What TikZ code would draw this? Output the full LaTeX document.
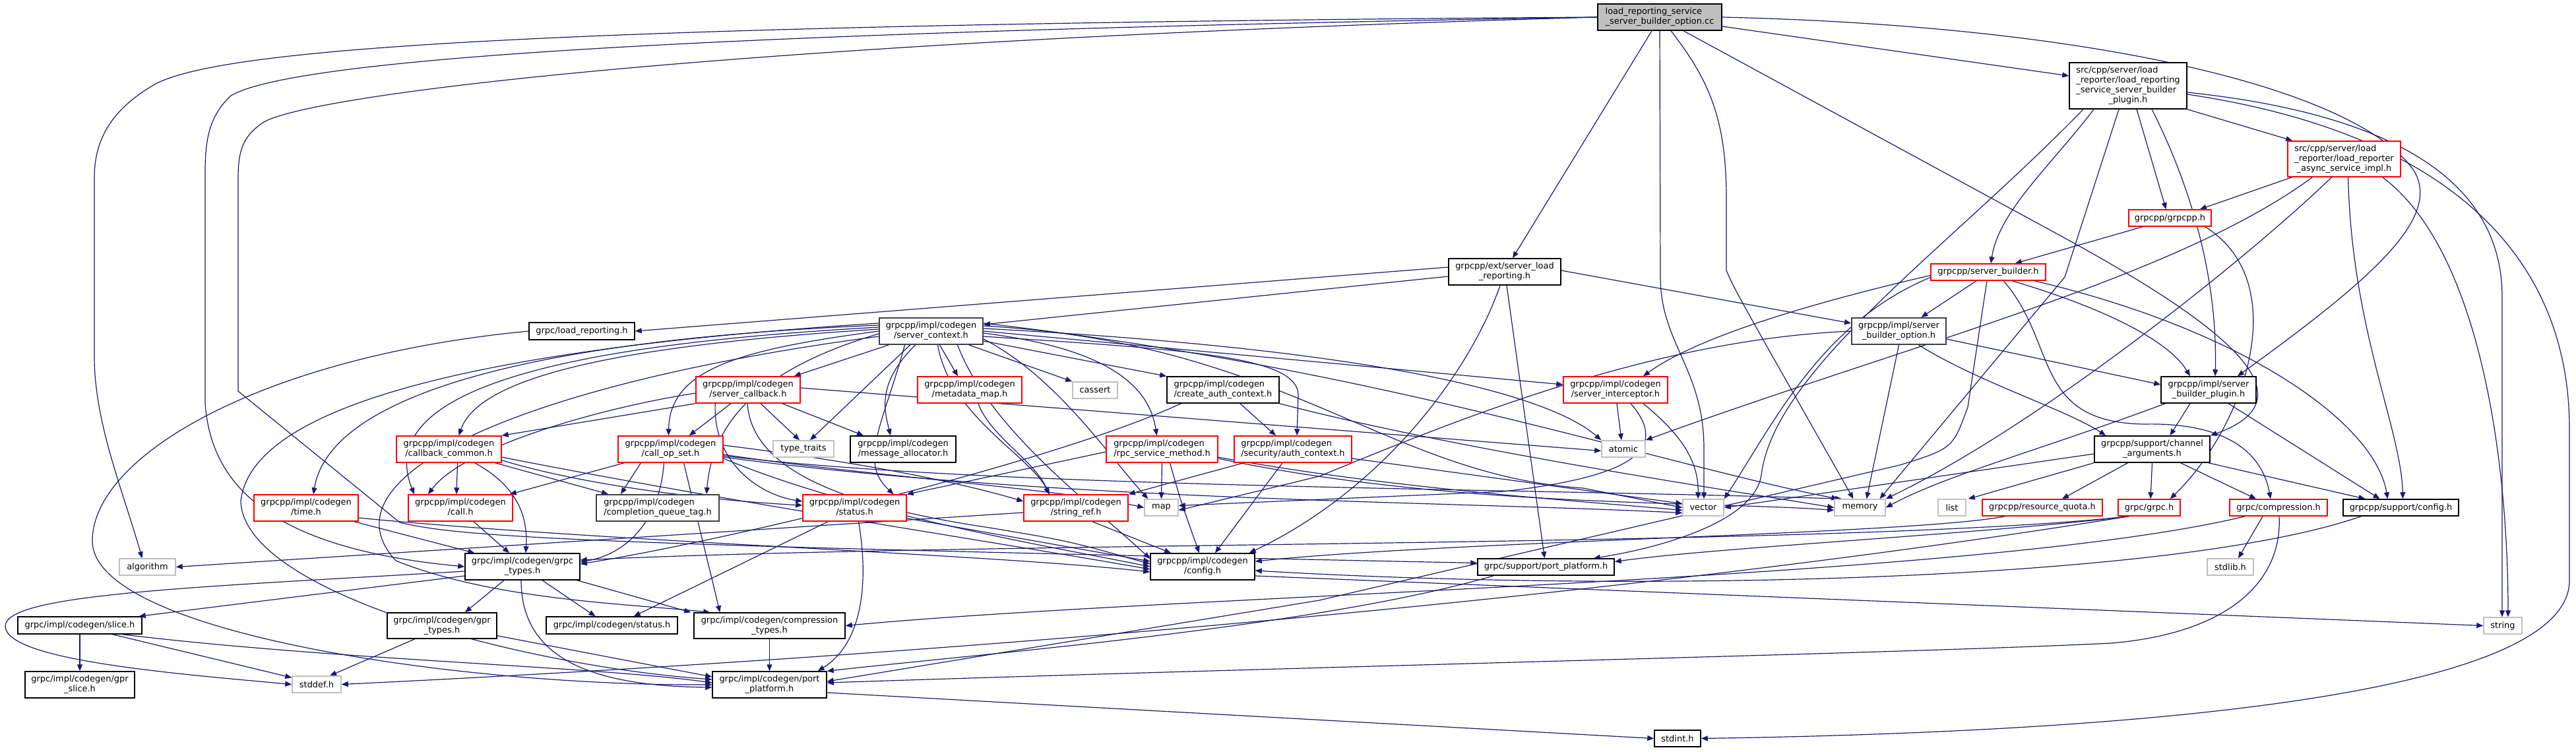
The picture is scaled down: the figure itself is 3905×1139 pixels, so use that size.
\documentclass[tikz,border=0pt]{standalone}
\usepackage{fontspec}
\setmainfont{DejaVu Sans}
\usetikzlibrary{arrows.meta,calc}
\definecolor{edgec}{HTML}{191970}
\definecolor{grayb}{HTML}{BFBFBF}
\definecolor{darkb}{HTML}{404040}
\definecolor{redb}{HTML}{FF0000}
\newcommand\nodefnt{\fontsize{9.7pt}{11.25pt}\selectfont}
\newcommand\TwoL[2]{\begin{tabular}{@{}l@{}}#1\\\multicolumn{1}{@{}c@{}}{#2}\end{tabular}}
\newcommand\ThreeL[3]{\begin{tabular}{@{}l@{}}#1\\#2\\\multicolumn{1}{@{}c@{}}{#3}\end{tabular}}
\newcommand\FourL[4]{\begin{tabular}{@{}l@{}}#1\\#2\\#3\\\multicolumn{1}{@{}c@{}}{#4}\end{tabular}}
\newcommand\mknode[7]{\node[nb,#6,minimum width={(#4-#2)*0.75pt},minimum height={(#5-#3)*0.75pt}] (#1) at ({(#2+#4)/2},{(#3+#5)/2}) {#7};}
\pgfdeclarelayer{edges}
\pgfsetlayers{edges,main}
\begin{document}
\begin{tikzpicture}[x=0.75pt,y=-0.75pt,
  nb/.style={draw,line width=1.1pt,inner sep=0pt,font=\nodefnt,fill=white},
  blk/.style={draw=black},
  redn/.style={draw=redb},
  gryn/.style={draw=grayb},
  drk/.style={draw=darkb,line width=1.5pt},
  rootn/.style={draw=black,fill=grayb},
  e/.style={draw=edgec,line width=0.9pt,-{Triangle[length=7.5pt,width=6pt]}}]
\useasboundingbox (0,0) rectangle (3905,1139);
% ---------------- nodes ----------------
\mknode{R}{2422}{6}{2610}{46}{rootn}{\TwoL{load\_reporting\_service}{\_server\_builder\_option.cc}}
\mknode{SP}{3137}{95}{3315}{165}{blk}{\FourL{src/cpp/server/load}{\_reporter/load\_reporting}{\_service\_server\_builder}{\_plugin.h}}
\mknode{AI}{3468}{214}{3639}{268}{redn}{\ThreeL{src/cpp/server/load}{\_reporter/load\_reporter}{\_async\_service\_impl.h}}
\mknode{GP}{3227}{318}{3352}{343}{redn}{grpcpp/grpcpp.h}
\mknode{SB}{2927}{400}{3101}{425}{redn}{grpcpp/server\_builder.h}
\mknode{EXT}{2196}{392}{2366}{432}{blk}{\TwoL{grpcpp/ext/server\_load}{\_reporting.h}}
\mknode{SBO}{2807}{482}{2950}{522}{drk}{\TwoL{grpcpp/impl/server}{\_builder\_option.h}}
\mknode{SI}{2370}{571}{2528}{611}{redn}{\TwoL{grpcpp/impl/codegen}{/server\_interceptor.h}}
\mknode{ATOM}{2428}{668}{2494}{693}{gryn}{atomic}
\mknode{SBP}{3276}{571}{3420}{611}{blk}{\TwoL{grpcpp/impl/server}{\_builder\_plugin.h}}
\mknode{CHA}{3175}{661}{3350}{701}{blk}{\TwoL{grpcpp/support/channel}{\_arguments.h}}
\mknode{LR}{802}{489}{962}{515}{blk}{grpc/load\_reporting.h}
\mknode{SC}{1333}{482}{1490}{522}{drk}{\TwoL{grpcpp/impl/codegen}{/server\_context.h}}
\mknode{SCB}{1055}{571}{1213}{611}{redn}{\TwoL{grpcpp/impl/codegen}{/server\_callback.h}}
\mknode{MM}{1391}{571}{1549}{611}{redn}{\TwoL{grpcpp/impl/codegen}{/metadata\_map.h}}
\mknode{CAS}{1626}{579}{1694}{604}{gryn}{cassert}
\mknode{CAC}{1769}{571}{1939}{611}{blk}{\TwoL{grpcpp/impl/codegen}{/create\_auth\_context.h}}
\mknode{CBC}{601}{661}{760}{701}{redn}{\TwoL{grpcpp/impl/codegen}{/callback\_common.h}}
\mknode{COS}{937}{661}{1096}{701}{redn}{\TwoL{grpcpp/impl/codegen}{/call\_op\_set.h}}
\mknode{TT}{1172}{668}{1264}{693}{gryn}{type\_traits}
\mknode{MA}{1289}{661}{1449}{701}{blk}{\TwoL{grpcpp/impl/codegen}{/message\_allocator.h}}
\mknode{RSM}{1677}{661}{1846}{701}{redn}{\TwoL{grpcpp/impl/codegen}{/rpc\_service\_method.h}}
\mknode{AC}{1871}{661}{2049}{701}{redn}{\TwoL{grpcpp/impl/codegen}{/security/auth\_context.h}}
\mknode{TIME}{385}{750}{543}{790}{redn}{\TwoL{grpcpp/impl/codegen}{/time.h}}
\mknode{CALL}{619}{750}{777}{790}{redn}{\TwoL{grpcpp/impl/codegen}{/call.h}}
\mknode{CQT}{904}{750}{1090}{790}{drk}{\TwoL{grpcpp/impl/codegen}{/completion\_queue\_tag.h}}
\mknode{ST}{1217}{750}{1374}{790}{redn}{\TwoL{grpcpp/impl/codegen}{/status.h}}
\mknode{SR}{1552}{750}{1710}{790}{redn}{\TwoL{grpcpp/impl/codegen}{/string\_ref.h}}
\mknode{MAP}{1735}{757}{1786}{782}{gryn}{map}
\mknode{VEC}{2551}{757}{2613}{782}{gryn}{vector}
\mknode{MEM}{2781}{757}{2858}{782}{gryn}{memory}
\mknode{LIST}{2938}{757}{2980}{782}{gryn}{list}
\mknode{RQ}{3005}{757}{3187}{782}{redn}{grpcpp/resource\_quota.h}
\mknode{GRPC}{3211}{757}{3305}{782}{redn}{grpc/grpc.h}
\mknode{COMP}{3380}{757}{3528}{782}{redn}{grpc/compression.h}
\mknode{SCFG}{3552}{757}{3727}{782}{blk}{grpcpp/support/config.h}
\mknode{GT}{705}{839}{879}{879}{blk}{\TwoL{grpc/impl/codegen/grpc}{\_types.h}}
\mknode{ALG}{181}{847}{266}{872}{gryn}{algorithm}
\mknode{CFG}{1744}{839}{1902}{879}{blk}{\TwoL{grpcpp/impl/codegen}{/config.h}}
\mknode{SPP}{2240}{847}{2447}{872}{blk}{grpc/support/port\_platform.h}
\mknode{STDLIB}{3346}{847}{3416}{872}{gryn}{stdlib.h}
\mknode{SLICE}{27}{935}{215}{961}{blk}{grpc/impl/codegen/slice.h}
\mknode{GPRT}{587}{929}{753}{968}{blk}{\TwoL{grpc/impl/codegen/gpr}{\_types.h}}
\mknode{GST}{828}{935}{1027}{961}{blk}{grpc/impl/codegen/status.h}
\mknode{CT}{1052}{929}{1281}{968}{blk}{\TwoL{grpc/impl/codegen/compression}{\_types.h}}
\mknode{GSL}{38}{1018}{204}{1058}{blk}{\TwoL{grpc/impl/codegen/gpr}{\_slice.h}}
\mknode{STDDEF}{443}{1025}{517}{1050}{gryn}{stddef.h}
\mknode{CGP}{1080}{1018}{1253}{1058}{blk}{\TwoL{grpc/impl/codegen/port}{\_platform.h}}
\mknode{STDINT}{2508}{1107}{2578}{1132}{blk}{stdint.h}
\mknode{STR}{3765}{936}{3823}{961}{gryn}{string}
% ---------------- edges ----------------
\begin{pgfonlayer}{edges}
% root
\draw[e] (R.west) .. controls (700,38) and (330,80) .. (236,127) .. controls (170,165) and (143,210) .. (143,270) -- (143,540) .. controls (143,640) and (185,740) .. ($(ALG.north)+(-8,0)$);
\draw[e] (R.west) .. controls (1000,50) and (440,92) .. (350,145) .. controls (318,175) and (311,210) .. (311,260) -- (311,610) .. controls (320,760) and (450,835) .. (GT.west);
\draw[e] (R.west) .. controls (1150,62) and (480,140) .. (400,185) .. controls (370,205) and (361,225) .. (361,270) -- (361,593) -- (606,792) .. controls (700,815) and (900,826) .. ($(SPP.west)+(0,-6)$);
\draw[e] ($(R.south)+(-12,0)$) -- ($(EXT.north)+(12,0)$);
\draw[e] (R.south) -- (2517,420) .. controls (2517,520) and (2583,560) .. (2583,680) -- ($(VEC.north)+(1,0)$);
\draw[e] ($(R.south)+(17,0)$) .. controls (2590,120) and (2617,180) .. (2617,300) -- (2617,410) .. controls (2630,440) .. ($(MEM.north)+(-10,0)$);
\draw[e] ($(R.south)+(36,0)$) -- (3110,350) .. controls (3350,480) and (3520,600) .. (CHA.north east);
\draw[e] ($(R.east)+(0,14)$) -- ($(SP.west)+(0,-15)$);
\draw[e] (R.east) .. controls (3200,40) and (3580,140) .. (3660,260) .. controls (3700,330) and (3600,420) .. ($(SBP.north east)+(-29,0)$);
% src plugin
\draw[e] (SP.south east) -- ($(AI.north west)+(8,0)$);
\draw[e] ($(SP.south)+(13,0)$) -- ($(GP.north)+(-6,0)$);
\draw[e] ($(SP.south)+(36,0)$) .. controls (3320,280) and (3362,420) .. ($(SBP.north)+(10,0)$);
\draw[e] ($(SP.south)+(-52,0)$) .. controls (3110,250) and (3030,320) .. ($(SB.north)+(4,0)$);
\draw[e] ($(SP.south)+(-68,0)$) .. controls (2950,380) and (2690,560) .. (2670,720) .. controls (2660,790) and (2520,830) .. ($(SPP.north east)+(-32,0)$);
\draw[e] ($(SP.south)+(-14,0)$) -- (3130,420) -- ($(MEM.north)+(30,0)$);
\draw[e] ($(SP.east)+(0,10)$) .. controls (3600,170) and (3793,260) .. (3793,450) -- ($(STR.north)+(-1,0)$);
\draw[e] ($(SP.east)+(0,13)$) .. controls (3700,200) and (3895,380) .. (3895,650) -- (3895,880) .. controls (3895,1060) and (3200,1110) .. (STDINT.east);
% async impl
\draw[e] ($(AI.south west)+(7,0)$) -- ($(GP.north east)+(-18,0)$);
\draw[e] ($(AI.south west)+(38,0)$) .. controls (3300,420) and (2900,520) .. (ATOM.north east);
\draw[e] ($(AI.south)+(-19,0)$) .. controls (3420,380) and (3100,640) .. (MEM.north east);
\draw[e] ($(AI.south)+(6,0)$) .. controls (3565,500) and (3640,650) .. ($(SCFG.north)+(3,0)$);
\draw[e] ($(AI.south east)+(-28,0)$) .. controls (3760,380) and (3802,700) .. ($(STR.north)+(8,0)$);
% grpcpp.h
\draw[e] ($(GP.south west)+(22,0)$) -- ($(SB.north east)+(-47,0)$);
\draw[e] ($(GP.south east)+(-10,0)$) .. controls (3480,430) and (3400,650) .. ($(GRPC.north east)+(-16,0)$);
% server_builder
\draw[e] ($(SB.south)+(-18,0)$) -- ($(SBO.north)+(34,0)$);
\draw[e] ($(SB.south)+(36,0)$) .. controls (3200,470) and (3290,520) .. ($(SBP.north)+(-28,0)$);
\draw[e] ($(SB.south)+(23,0)$) .. controls (3120,520) and (3080,640) .. (3250,643) .. controls (3380,640) and (3430,690) .. ($(COMP.north)+(-12,0)$);
\draw[e] ($(SB.south east)+(-18,0)$) .. controls (3400,500) and (3600,640) .. ($(SCFG.north)+(-20,0)$);
\draw[e] ($(SB.south)+(-2,0)$) -- (2983,617) .. controls (2960,680) .. (2880,705) -- (2000,910) -- ($(CGP.east)+(0,-5)$);
\draw[e] ($(SB.west)+(0,5)$) .. controls (2700,470) and (2560,520) .. ($(SI.north)+(42,0)$);
\draw[e] ($(SB.west)+(0,8)$) .. controls (2760,490) and (2690,640) .. (VEC.north east);
% server_builder_option
\draw[e] (SBO.west) .. controls (2500,515) and (2200,640) .. (2000,722) -- ($(MAP.east)+(0,4)$);
\draw[e] (SBO.south) -- ($(MEM.north)+(10,0)$);
\draw[e] ($(SBO.east)+(0,12)$) -- ($(SBP.west)+(0,-8)$);
\draw[e] ($(SBO.south)+(30,0)$) .. controls (3000,580) and (3130,620) .. ($(CHA.north west)+(18,0)$);
% server_builder_plugin
\draw[e] ($(SBP.south)+(-28,0)$) -- ($(CHA.north)+(27,0)$);
\draw[e] ($(SBP.south)+(30,0)$) -- ($(SCFG.north)+(-32,0)$);
\draw[e] ($(SBP.south west)+(7,0)$) .. controls (3100,680) and (2950,720) .. (MEM.east);
% channel_arguments
\draw[e] (CHA.south west) -- ($(LIST.north east)+(3,0)$);
\draw[e] ($(CHA.west)+(0,7)$) -- (VEC.east);
\draw[e] ($(CHA.south)+(-37,0)$) -- ($(RQ.north)+(30,0)$);
\draw[e] (CHA.south) -- ($(GRPC.north)+(2,0)$);
\draw[e] ($(CHA.south)+(43,0)$) -- ($(COMP.north)+(-34,0)$);
\draw[e] ($(CHA.south east)+(-3,0)$) -- ($(SCFG.north)+(-54,0)$);
% resource_quota, grpc.h, compression, support/config
\draw[e] ($(RQ.south west)+(35,0)$) .. controls (2900,810) and (2200,820) .. ($(CFG.east)+(0,-8)$);
\draw[e] ($(GRPC.south west)+(17,0)$) .. controls (3000,810) and (2600,830) .. ($(SPP.east)+(0,-8)$);
\draw[e] ($(GRPC.south west)+(17,0)$) .. controls (2800,830) and (1500,820) .. ($(GT.east)+(0,-10)$);
\draw[e] ($(GRPC.south west)+(17,0)$) .. controls (2500,900) and (1500,990) .. (STDDEF.east);
\draw[e] ($(COMP.south)+(-24,0)$) -- ($(STDLIB.north)+(12,0)$);
\draw[e] ($(COMP.south west)+(24,0)$) .. controls (3000,880) and (1800,900) .. (CT.east);
\draw[e] ($(COMP.south)+(1,0)$) .. controls (3460,880) and (3380,960) .. (3200,975) .. controls (2900,990) and (2000,1010) .. ($(CGP.east)+(0,-3)$);
\draw[e] ($(SCFG.south west)+(28,0)$) .. controls (3300,880) and (2500,900) .. ($(CFG.east)+(0,6)$);
\draw[e] ($(CFG.east)+(0,14)$) -- (STR.west);
% ext/server_load_reporting
\draw[e] ($(EXT.west)+(0,-7)$) -- (LR.east);
\draw[e] ($(EXT.west)+(0,7)$) -- ($(SC.east)+(0,-10)$);
\draw[e] ($(EXT.east)+(0,-2)$) -- ($(SBO.west)+(0,-12)$);
\draw[e] ($(EXT.south)+(-7,0)$) .. controls (2230,560) and (2100,740) .. ($(CFG.north east)+(-9,0)$);
\draw[e] ($(EXT.south)+(3,0)$) -- ($(SPP.north)+(-2,0)$);
% grpc/load_reporting.h
\draw[e] (LR.west) .. controls (400,540) and (140,690) .. (140,820) .. controls (140,960) and (700,1040) .. (CGP.west);
% server_context
\draw[e] ($(SC.south west)+(15,0)$) -- ($(SCB.north east)+(-10,0)$);
\draw[e] ($(SC.south)+(-32,0)$) -- ($(TT.north)+(10,0)$);
\draw[e] ($(SC.south)+(-24,0)$) .. controls (1330,580) and (1340,620) .. ($(MA.north)+(-19,0)$);
\draw[e] ($(SC.south)+(13,0)$) -- ($(MM.north)+(-18,0)$);
\draw[e] ($(SC.south east)+(-22,0)$) -- (CAS.north west);
\draw[e] ($(SC.east)+(0,15)$) -- (CAC.north west);
\draw[e] ($(SC.east)+(0,3)$) .. controls (1650,525) and (1740,570) .. ($(RSM.north)+(-8,0)$);
\draw[e] ($(SC.east)+(0,8)$) .. controls (1800,530) and (1970,540) .. (1968,600) -- ($(AC.north)+(6,0)$);
\draw[e] (SC.east) -- ($(SI.west)+(0,-8)$);
\draw[e] ($(SC.east)+(0,-4)$) .. controls (2100,530) and (2350,600) .. (ATOM.north west);
\draw[e] ($(SC.east)+(0,12)$) .. controls (1600,570) and (1680,690) .. ($(MAP.north west)+(6,0)$);
\draw[e] ($(SC.east)+(0,-8)$) .. controls (1950,520) and (2100,720) .. (2400,740) -- (VEC.west);
\draw[e] ($(SC.east)+(0,-12)$) .. controls (2100,560) and (2500,700) .. ($(MEM.north west)+(6,0)$);
\draw[e] ($(SC.south)+(40,0)$) .. controls (1500,650) and (1650,760) .. ($(CFG.west)+(0,-12)$);
\draw[e] ($(SC.south)+(-40,0)$) .. controls (1340,640) and (1300,700) .. ($(ST.north east)+(-20,0)$);
\draw[e] ($(SC.south)+(10,0)$) .. controls (1440,630) and (1560,690) .. ($(SR.north)+(-40,0)$);
\draw[e] (SC.west) .. controls (1120,530) and (1015,560) .. ($(COS.north)+(-3,0)$);
\draw[e] ($(SC.west)+(0,-3)$) .. controls (1000,520) and (730,560) .. ($(CBC.north)+(15,0)$);
\draw[e] ($(SC.west)+(0,-6)$) .. controls (900,520) and (560,580) .. ($(CALL.north)+(-70,0)$);
\draw[e] ($(SC.west)+(0,-9)$) .. controls (800,515) and (500,600) .. ($(TIME.north)+(11,0)$);
\draw[e] ($(SC.west)+(0,4)$) .. controls (1150,560) and (1080,640) .. ($(CQT.north east)+(-20,0)$);
\draw[e] ($(SC.west)+(0,-12)$) .. controls (700,530) and (380,620) .. (365,760) .. controls (370,900) and (800,1010) .. ($(CGP.west)+(0,-8)$);
\draw[e] ($(SC.west)+(0,8)$) .. controls (800,580) and (480,720) .. (600,850) .. controls (750,910) and (950,915) .. ($(CT.north west)+(25,0)$);
% server_callback
\draw[e] ($(SCB.east)+(0,-3)$) -- ($(ATOM.west)+(0,3)$);
\draw[e] ($(SCB.south)+(19,0)$) -- ($(TT.north)+(-6,0)$);
\draw[e] ($(SCB.south east)+(-28,0)$) -- ($(MA.north)+(-60,0)$);
\draw[e] ($(SCB.south)+(-26,0)$) -- ($(COS.north east)+(-52,0)$);
\draw[e] (SCB.south west) -- (CBC.north east);
\draw[e] ($(SCB.west)+(0,5)$) .. controls (900,620) and (700,680) .. ($(CALL.north)+(-49,0)$);
\draw[e] ($(SCB.south)+(-1,0)$) .. controls (1140,720) and (1300,770) .. (1500,800) .. controls (1620,820) .. ($(CFG.west)+(0,-4)$);
\draw[e] ($(SCB.south west)+(30,0)$) .. controls (1080,700) and (1150,750) .. ($(ST.west)+(0,-10)$);
% metadata_map, create_auth_context, auth_context, rpc_service_method
\draw[e] ($(MM.south)+(13,0)$) .. controls (1500,660) and (1570,700) .. ($(SR.north)+(-41,0)$);
\draw[e] ($(CAC.south east)+(-60,0)$) -- ($(AC.north)+(-26,0)$);
\draw[e] ($(CAC.south west)+(22,0)$) .. controls (1600,700) and (1100,820) .. ($(GT.east)+(0,-4)$);
\draw[e] (CAC.south east) .. controls (2200,680) and (2600,740) .. (MEM.west);
\draw[e] ($(AC.south west)+(15,0)$) -- (SR.north east);
\draw[e] ($(AC.south)+(-16,0)$) -- ($(CFG.north)+(19,0)$);
\draw[e] ($(AC.east)+(0,14)$) -- ($(VEC.west)+(0,-6)$);
\draw[e] (RSM.south) -- (MAP.north);
\draw[e] ($(RSM.south)+(12,0)$) .. controls (1790,760) .. ($(CFG.north)+(-5,0)$);
\draw[e] ($(RSM.west)+(0,4)$) -- (ST.north east);
\draw[e] ($(RSM.east)+(0,12)$) .. controls (2100,740) and (2400,760) .. ($(VEC.west)+(0,4)$);
\draw[e] ($(RSM.east)+(0,14)$) .. controls (2200,770) and (2600,760) .. ($(MEM.west)+(0,4)$);
% callback_common
\draw[e] ($(CBC.south)+(13,0)$) -- ($(CALL.north)+(-6,0)$);
\draw[e] ($(CBC.south)+(39,0)$) .. controls (790,740) and (800,790) .. ($(GT.north)+(5,0)$);
\draw[e] ($(CBC.south east)+(-10,0)$) -- ($(CQT.north)+(-75,0)$);
\draw[e] ($(CBC.east)+(0,12)$) .. controls (1100,760) and (1500,820) .. ($(CFG.west)+(0,4)$);
\draw[e] ($(CBC.south east)+(0,-4)$) .. controls (900,740) and (1100,760) .. ($(ST.west)+(0,-4)$);
% call_op_set
\draw[e] ($(COS.south west)+(10,0)$) -- ($(CALL.north east)+(-5,0)$);
\draw[e] ($(COS.south)+(-45,0)$) -- ($(CQT.north)+(-56,0)$);
\draw[e] ($(COS.south)+(-10,0)$) .. controls (1000,790) and (950,840) .. ($(GT.east)+(0,-7)$);
\draw[e] ($(COS.south)+(20,0)$) .. controls (1060,800) and (1080,880) .. ($(CT.north west)+(40,0)$);
\draw[e] ($(COS.east)+(0,8)$) .. controls (1300,720) and (1600,740) .. (MAP.west);
\draw[e] ($(COS.east)+(0,10)$) .. controls (1500,740) and (2300,740) .. ($(MEM.north west)+(12,0)$);
\draw[e] ($(COS.east)+(0,12)$) .. controls (1600,760) and (2200,760) .. ($(VEC.west)+(0,8)$);
\draw[e] ($(COS.east)+(0,-6)$) .. controls (1300,700) and (1450,730) .. ($(SR.west)+(0,-10)$);
\draw[e] ($(COS.east)+(0,14)$) .. controls (1300,780) and (1600,830) .. (CFG.west);
% time, call, status, string_ref, server_interceptor
\draw[e] ($(TIME.south east)+(-7,0)$) -- ($(GT.north west)+(15,0)$);
\draw[e] ($(TIME.east)+(0,15)$) .. controls (900,820) and (1500,840) .. ($(CFG.west)+(0,8)$);
\draw[e] ($(CALL.south)+(20,0)$) -- ($(GT.north)+(-20,0)$);
\draw[e] ($(ST.south west)+(39,0)$) -- ($(GST.north east)+(-67,0)$);
\draw[e] ($(ST.south)+(6,0)$) .. controls (1320,900) and (1300,980) .. ($(CGP.north east)+(-14,0)$);
\draw[e] ($(ST.south east)+(0,-5)$) -- ($(CFG.west)+(0,-8)$);
\draw[e] ($(SR.south east)+(-55,0)$) -- ($(CFG.north)+(-48,0)$);
\draw[e] ($(SR.west)+(0,7)$) -- (ALG.east);
\draw[e] ($(SI.south)+(2,0)$) -- ($(ATOM.north)+(-3,0)$);
\draw[e] ($(SI.south)+(42,0)$) .. controls (2550,660) and (2575,700) .. ($(VEC.north)+(-8,0)$);
\draw[e] ($(SI.south)+(23,0)$) .. controls (2540,690) and (2450,725) .. (2280,745) -- ($(MAP.east)+(0,-3)$);
% grpc_types and below
\draw[e] ($(GT.west)+(0,14)$) -- ($(SLICE.north east)+(-5,0)$);
\draw[e] ($(GT.west)+(0,7)$) .. controls (300,890) and (5,900) .. (8,950) .. controls (12,1000) and (250,1020) .. (STDDEF.west);
\draw[e] ($(GT.south)+(-28,0)$) -- ($(GPRT.north)+(35,0)$);
\draw[e] ($(GT.south)+(30,0)$) -- ($(GST.north)+(-25,0)$);
\draw[e] ($(GT.south)+(-2,0)$) .. controls (790,1000) and (900,1040) .. ($(CGP.west)+(0,4)$);
\draw[e] ($(GT.south east)+(-5,0)$) -- ($(CT.north west)+(-4,0)$);
\draw[e] (SLICE.south) -- (GSL.north);
\draw[e] ($(SLICE.south east)+(-45,0)$) -- ($(STDDEF.north west)+(0,3)$);
\draw[e] ($(SLICE.south east)+(-30,0)$) .. controls (500,1000) and (900,1010) .. ($(CGP.west)+(0,-3)$);
\draw[e] ($(GPRT.south)+(-41,0)$) -- ($(STDDEF.north)+(20,0)$);
\draw[e] ($(GPRT.south east)+(0,-5)$) -- ($(CGP.west)+(0,-12)$);
\draw[e] (CT.south) -- (CGP.north);
\draw[e] ($(CGP.east)+(0,12)$) -- (STDINT.west);
\draw[e] ($(SPP.south west)+(25,0)$) .. controls (2000,950) and (1500,990) .. (CGP.north east);
\end{pgfonlayer}
\end{tikzpicture}
\end{document}
